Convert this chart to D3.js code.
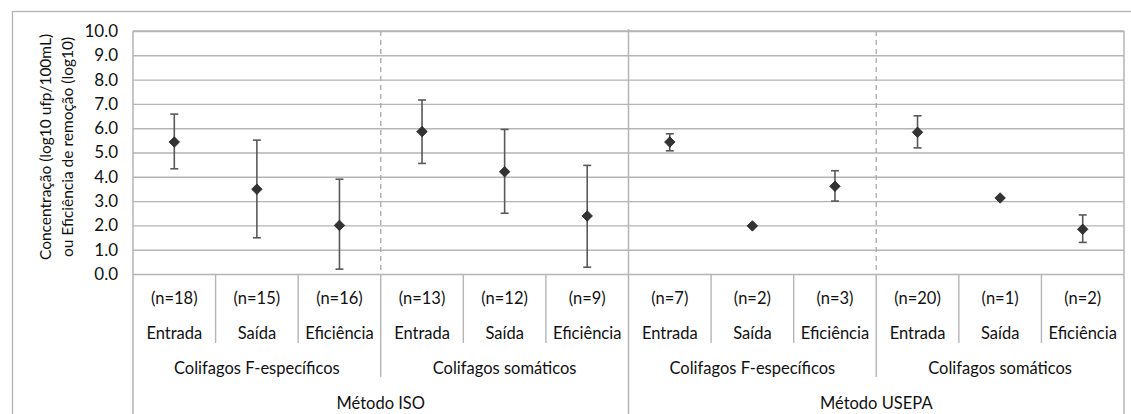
<!DOCTYPE html>
<html>
<head>
<meta charset="utf-8">
<script src="https://cdn.jsdelivr.net/npm/d3@7"></script>
<style>
  body { margin: 0; background: #fff; }
  svg { display: block; font-family: Lato, "Open Sans", sans-serif; }
</style>
</head>
<body>
<div id="chart"></div>
<script>
// chart values
var methods = ["Método ISO", "Método USEPA"];
var groups = ["Colifagos F-específicos", "Colifagos somáticos", "Colifagos F-específicos", "Colifagos somáticos"];
var stages = ["Entrada", "Saída", "Eficiência"];
var nCounts = [18, 15, 16, 13, 12, 9, 7, 2, 3, 20, 1, 2];
var means = [5.43, 3.49, 2.00, 5.86, 4.21, 2.39, 5.43, 1.98, 3.61, 5.83, 3.13, 1.84];
var upper = [6.58, 5.51, 3.90, 7.16, 5.95, 4.47, 5.77, 1.98, 4.25, 6.51, 3.13, 2.43];
var lower = [4.33, 1.49, 0.20, 4.55, 2.50, 0.28, 5.07, 1.98, 3.00, 5.19, 3.13, 1.30];
var yTicks = [0, 1, 2, 3, 4, 5, 6, 7, 8, 9, 10];

var W = 1131, H = 414;
var plot = { left: 133, right: 1124, top: 31, bottom: 274 };

var svg = d3.select("#chart").append("svg")
    .attr("width", W)
    .attr("height", H);

// outer frame (runs off the picture right and bottom)
svg.append("rect")
    .attr("x", 12.5).attr("y", 11.5)
    .attr("width", W + 20).attr("height", H + 20)
    .attr("fill", "none")
    .attr("stroke", "#b3b3b3")
    .attr("stroke-width", 1.3);

var data = nCounts.map(function(n, i) {
  return { i: i, n: n, stage: stages[i % 3], mean: means[i], hi: upper[i], lo: lower[i] };
});

var x = d3.scaleBand()
    .domain(d3.range(data.length))
    .range([plot.left, plot.right])
    .padding(0);

var y = d3.scaleLinear()
    .domain([0, 10])
    .range([plot.bottom, plot.top]);

var gridColor = "#b5b5b5";
var textColor = "#111";

// gridlines + y labels
var yAxis = d3.axisLeft(y)
    .tickValues(yTicks)
    .tickFormat(d3.format(".1f"))
    .tickSize(-(plot.right - plot.left))
    .tickPadding(15);

var gy = svg.append("g")
    .attr("transform", "translate(" + plot.left + ",0)")
    .call(yAxis);
gy.select(".domain").remove();
gy.selectAll(".tick line")
    .attr("stroke", gridColor)
    .attr("stroke-width", 1.4);
gy.selectAll(".tick text")
    .attr("fill", textColor)
    .style("font-size", "17px")
    .style("font-family", "Lato, sans-serif");

// y axis title
var yt = svg.append("text")
    .attr("transform", "translate(51,147) rotate(-90)")
    .attr("text-anchor", "middle")
    .attr("fill", textColor)
    .style("font-size", "15.5px");
yt.append("tspan").attr("x", 0).attr("dy", 0).text("Concentração (log10 ufp/100mL)");
yt.append("tspan").attr("x", 0).attr("dy", 22).text("ou Eficiência de remoção (log10)");

// category boundaries
function edge(k) { return k < data.length ? x(k) : plot.right; }

var lines = svg.append("g").attr("fill", "none");

// level 1 separators under the axis
d3.range(1, data.length).filter(function(k) { return k % 3 !== 0; }).forEach(function(k) {
  lines.append("line")
      .attr("x1", edge(k)).attr("x2", edge(k))
      .attr("y1", plot.bottom).attr("y2", 343)
      .attr("stroke", gridColor).attr("stroke-width", 1.4);
});

// group separators: dashed in plot, solid below
[3, 9].forEach(function(k) {
  lines.append("line")
      .attr("x1", edge(k)).attr("x2", edge(k))
      .attr("y1", plot.top).attr("y2", plot.bottom)
      .attr("stroke", "#a8a8a8").attr("stroke-width", 1.3)
      .attr("stroke-dasharray", "5,4");
  lines.append("line")
      .attr("x1", edge(k)).attr("x2", edge(k))
      .attr("y1", plot.bottom).attr("y2", 377)
      .attr("stroke", gridColor).attr("stroke-width", 1.4);
});

// method separators, full height
[0, 6, 12].forEach(function(k) {
  lines.append("line")
      .attr("x1", edge(k)).attr("x2", edge(k))
      .attr("y1", k === 6 ? 29 : plot.top).attr("y2", H)
      .attr("stroke", gridColor).attr("stroke-width", 1.5);
});

// plot top border
lines.append("line")
    .attr("x1", plot.left).attr("x2", plot.right)
    .attr("y1", plot.top).attr("y2", plot.top)
    .attr("stroke", gridColor).attr("stroke-width", 1.4);

// category labels
var labels = svg.append("g")
    .attr("text-anchor", "middle")
    .attr("fill", textColor)
    .style("font-size", "16.5px");

data.forEach(function(d) {
  var cx = x(d.i) + x.bandwidth() / 2;
  labels.append("text").attr("x", cx).attr("y", 304).text("(n=" + d.n + ")");
  labels.append("text").attr("x", cx).attr("y", 339).text(d.stage);
});

groups.forEach(function(g, j) {
  var cx = (edge(j * 3) + edge(j * 3 + 3)) / 2;
  labels.append("text").attr("x", cx).attr("y", 374).text(g);
});

methods.forEach(function(m, j) {
  var cx = (edge(j * 6) + edge(j * 6 + 6)) / 2;
  labels.append("text").attr("x", cx).attr("y", 409).text(m);
});

// error bars
var bars = svg.append("g")
    .attr("stroke", "#595959")
    .attr("stroke-width", 1.6);

data.forEach(function(d) {
  var cx = x(d.i) + x.bandwidth() / 2;
  bars.append("line")
      .attr("x1", cx).attr("x2", cx)
      .attr("y1", y(d.hi)).attr("y2", y(d.lo));
  [d.hi, d.lo].forEach(function(v) {
    bars.append("line")
        .attr("x1", cx - 4).attr("x2", cx + 4)
        .attr("y1", y(v)).attr("y2", y(v));
  });
});

// diamonds
svg.append("g").selectAll("path")
    .data(data)
    .enter().append("path")
      .attr("d", d3.symbol().type(d3.symbolDiamond2).size(70))
      .attr("transform", function(d) {
        return "translate(" + (x(d.i) + x.bandwidth() / 2) + "," + y(d.mean) + ")";
      })
      .attr("fill", "#333")
      .attr("stroke", "#222")
      .attr("stroke-width", 0.8);
</script>
</body>
</html>
